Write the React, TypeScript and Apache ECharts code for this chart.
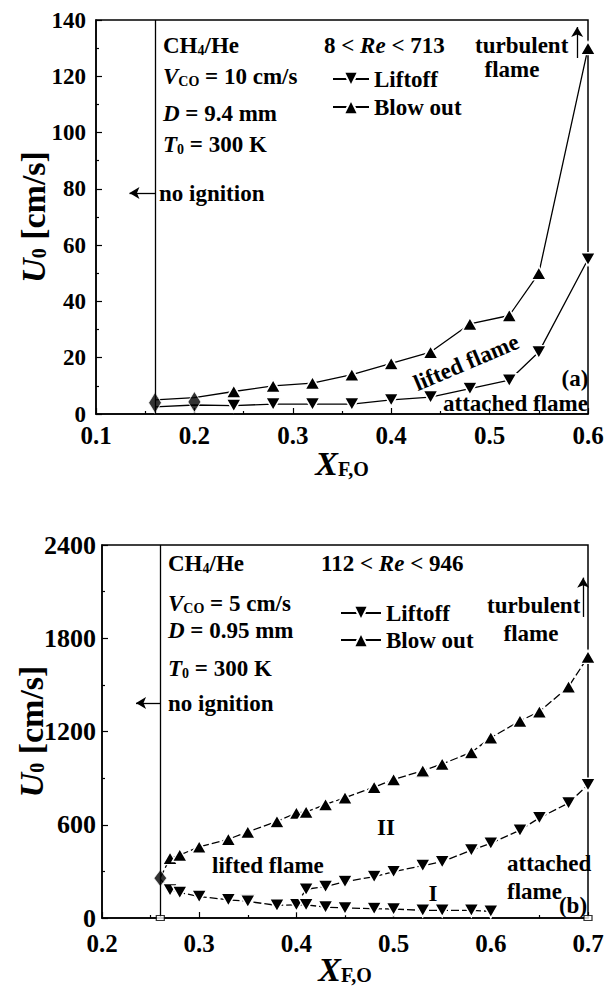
import React, { useEffect, useRef } from "react";
import * as echarts from "echarts";

// ---------- Panel (a) data ----------
const xTop = [0.16, 0.2, 0.24, 0.28, 0.32, 0.36, 0.4, 0.44, 0.48, 0.52, 0.55, 0.6];
const liftoffTop = [2.5, 3.2, 3, 3.5, 3.5, 3.5, 5, 6, 9, 12, 22, 55];
const blowoutTop = [5, 5.8, 8, 10, 11, 14, 18, 22, 32, 35, 50, 130];
const onsetTopX = [0.16, 0.2];
const onsetTopY = [4, 4.3];
const limitTopX = 0.16;
const xTicksTop = [0.1, 0.2, 0.3, 0.4, 0.5, 0.6];
const yTicksTop = [0, 20, 40, 60, 80, 100, 120, 140];

// ---------- Panel (b) data ----------
const xBlowBot = [0.26, 0.27, 0.28, 0.3, 0.33, 0.35, 0.38, 0.4, 0.41, 0.43, 0.45, 0.48, 0.5, 0.53, 0.55, 0.58, 0.6, 0.63, 0.65, 0.68, 0.7];
const blowoutBot = [260, 385, 405, 458, 507, 554, 622, 676, 682, 731, 774, 842, 891, 948, 991, 1066, 1160, 1268, 1328, 1488, 1680];
const xLiftBot1 = [0.26, 0.27, 0.28, 0.3, 0.33, 0.35, 0.38, 0.4, 0.41, 0.43, 0.45, 0.48, 0.5, 0.53, 0.55, 0.58, 0.6];
const liftoffBot1 = [250, 180, 164, 138, 117, 107, 81, 85, 85, 70, 64, 60, 58, 49, 49, 49, 43];
const xLiftBot2 = [0.4, 0.41, 0.43, 0.45, 0.48, 0.5, 0.53, 0.55, 0.58, 0.6, 0.63, 0.65, 0.68, 0.7];
const liftoffBot2 = [85, 185, 202, 234, 266, 298, 337, 362, 437, 480, 565, 644, 740, 857];
const onsetBotX = [0.26];
const onsetBotY = [256];
const openBotX = [0.26, 0.7];
const openBotY = [0, 0];
const limitBotX = 0.26;
const xTicksBot = [0.2, 0.3, 0.4, 0.5, 0.6, 0.7];
const yTicksBot = [0, 600, 1200, 1800, 2400];

const FONT = "'Liberation Serif', 'Times New Roman', serif";
const DOWN = "path://M0,0 L10,0 L5,9 Z";

const rich = (fs: number, subFs?: number, subPad?: number, subLh?: number) => ({
  n: { fontSize: fs, fontWeight: "bold", fontFamily: FONT, color: "#000", lineHeight: fs },
  i: { fontSize: fs, fontWeight: "bold", fontStyle: "italic", fontFamily: FONT, color: "#000", lineHeight: fs },
  s: {
    fontSize: subFs || Math.round(fs * 0.62),
    fontWeight: "bold",
    fontFamily: FONT,
    color: "#000",
    lineHeight: subLh || Math.round(fs * 0.7),
    padding: [subPad || Math.round(fs * 0.45), 0, 0, 0],
  },
});

const txt = (text: string, x: number, y: number, opts: any = {}) => ({
  type: "text",
  x,
  y,
  rotation: opts.rotation || 0,
  style: {
    text,
    rich: rich(opts.fs || 23),
    align: opts.align || "left",
    verticalAlign: "middle",
  },
});

const pts = (xs: number[], ys: number[], hideFirst: number) =>
  xs.map((x, i) => (i < hideFirst ? { value: [x, ys[i]], symbol: "none" } : [x, ys[i]]));

const axisCommon = {
  axisLine: { show: true, lineStyle: { color: "#000", width: 1.5 } },
  axisTick: { show: true, inside: true, length: 6, lineStyle: { color: "#000", width: 1.2 } },
  minorTick: { show: true, splitNumber: 2, length: 3, lineStyle: { color: "#000", width: 1.2 } },
  splitLine: { show: false },
  nameMoveOverlap: false,
};
const labelStyle = (fs: number, margin: number, fmt: (v: number) => string) => ({
  color: "#000",
  fontSize: fs,
  lineHeight: fs - 3,
  fontWeight: "bold",
  fontFamily: FONT,
  margin,
  formatter: fmt,
});
const titleRich = rich(34, 20, 12, 20);

export default function App() {
  const ref = useRef<HTMLDivElement>(null);
  useEffect(() => {
    const chart = echarts.init(ref.current!, null, { renderer: "svg" });
    const lineBase = (dashed: boolean) => ({
      type: "line",
      lineStyle: { color: "#000", width: 1.3, type: dashed ? [8, 3] : "solid" },
      itemStyle: { color: "#000", borderColor: "#fff", borderWidth: 1.5 },
      symbolSize: [15, 13],
      emphasis: { disabled: true },
      z: 3,
    });
    const gridBase = {
      show: true,
      borderColor: "#000",
      borderWidth: 1.5,
      backgroundColor: "transparent",
      containLabel: false,
      outerBoundsMode: "none",
    };
    const legendText = { fontSize: 23, fontWeight: "bold", fontFamily: FONT, color: "#000", lineHeight: 24 };
    const option: any = {
      animation: false,
      backgroundColor: "#fff",
      grid: [
        { ...gridBase, left: 96, top: 20, width: 492, height: 394 },
        { ...gridBase, left: 102, top: 545, width: 486, height: 373 },
      ],
      xAxis: [
        {
          ...axisCommon,
          gridIndex: 0,
          type: "value",
          min: xTicksTop[0],
          max: xTicksTop[xTicksTop.length - 1],
          interval: 0.1,
          axisLabel: labelStyle(25, 10, (v: number) => v.toFixed(1)),
          name: "{i|X}{s|F,O}",
          nameLocation: "middle",
          nameGap: 32,
          nameTextStyle: { rich: titleRich },
        },
        {
          ...axisCommon,
          gridIndex: 1,
          type: "value",
          min: xTicksBot[0],
          max: xTicksBot[xTicksBot.length - 1],
          interval: 0.1,
          axisLabel: labelStyle(25, 14, (v: number) => v.toFixed(1)),
          name: "{i|X}{s|F,O}",
          nameLocation: "middle",
          nameGap: 34,
          nameTextStyle: { rich: titleRich },
        },
      ],
      yAxis: [
        {
          ...axisCommon,
          gridIndex: 0,
          type: "value",
          min: yTicksTop[0],
          max: yTicksTop[yTicksTop.length - 1],
          interval: 20,
          axisLabel: labelStyle(23, 10, (v: number) => String(v)),
          name: "{i|U}{s|0}{n| [cm/s]}",
          nameLocation: "middle",
          nameGap: 46,
          nameRotate: 90,
          nameTextStyle: { rich: titleRich },
        },
        {
          ...axisCommon,
          gridIndex: 1,
          type: "value",
          min: yTicksBot[0],
          max: yTicksBot[yTicksBot.length - 1],
          interval: 600,
          axisLabel: labelStyle(26, 6, (v: number) => String(v)),
          name: "{i|U}{s|0}{n| [cm/s]}",
          nameLocation: "middle",
          nameGap: 54,
          nameRotate: 90,
          nameTextStyle: { rich: titleRich },
        },
      ],
      legend: [
        {
          data: ["Liftoff", "Blow out"],
          orient: "vertical",
          left: 327,
          top: 62,
          itemWidth: 36,
          itemHeight: 18,
          itemGap: 4,
          selectedMode: false,
          textStyle: legendText,
        },
        {
          data: ["Liftoff", "Blow out"],
          orient: "vertical",
          left: 335,
          top: 596,
          itemWidth: 40,
          itemHeight: 18,
          itemGap: 3,
          selectedMode: false,
          textStyle: legendText,
        },
      ],
      series: [
        // ----- panel (a)
        {
          ...lineBase(false),
          name: "Liftoff",
          xAxisIndex: 0,
          yAxisIndex: 0,
          symbol: DOWN,
          data: pts(xTop, liftoffTop, 2),
        },
        {
          ...lineBase(false),
          name: "Blow out",
          xAxisIndex: 0,
          yAxisIndex: 0,
          symbol: "triangle",
          data: pts(xTop, blowoutTop, 2),
        },
        {
          type: "scatter",
          name: "onset-a",
          xAxisIndex: 0,
          yAxisIndex: 0,
          symbol: "diamond",
          symbolSize: [13, 21],
          itemStyle: { color: "#000", borderColor: "#fff", borderWidth: 1 },
          emphasis: { disabled: true },
          z: 4,
          data: onsetTopX.map((x, i) => [x, onsetTopY[i]]),
          markLine: {
            silent: true,
            symbol: ["none", "arrow"],
            symbolSize: [9, 10],
            label: { show: false },
            lineStyle: { color: "#000", width: 1.3, type: "solid" },
            data: [
              [{ coord: [limitTopX, 0], symbol: "none" }, { coord: [limitTopX, 140], symbol: "none" }],
              [{ coord: [limitTopX, 78.5] }, { coord: [0.134, 78.5] }],
              [{ coord: [0.589, 126.5] }, { coord: [0.589, 137.5] }],
            ],
          },
        },
        // ----- panel (b)
        {
          ...lineBase(true),
          name: "Liftoff",
          xAxisIndex: 1,
          yAxisIndex: 1,
          symbol: DOWN,
          data: pts(xLiftBot1, liftoffBot1, 1),
        },
        {
          ...lineBase(true),
          name: "Liftoff",
          xAxisIndex: 1,
          yAxisIndex: 1,
          symbol: DOWN,
          data: pts(xLiftBot2, liftoffBot2, 1),
        },
        {
          ...lineBase(true),
          name: "Blow out",
          xAxisIndex: 1,
          yAxisIndex: 1,
          symbol: "triangle",
          data: pts(xBlowBot, blowoutBot, 1),
        },
        {
          type: "scatter",
          name: "onset-b",
          xAxisIndex: 1,
          yAxisIndex: 1,
          symbol: "diamond",
          symbolSize: [13, 17],
          itemStyle: { color: "#000", borderColor: "#fff", borderWidth: 1 },
          emphasis: { disabled: true },
          z: 4,
          data: onsetBotX.map((x, i) => [x, onsetBotY[i]]),
          markLine: {
            silent: true,
            symbol: ["none", "arrow"],
            symbolSize: [9, 10],
            label: { show: false },
            lineStyle: { color: "#000", width: 1.3, type: "solid" },
            data: [
              [{ coord: [limitBotX, 0], symbol: "none" }, { coord: [limitBotX, 2400], symbol: "none" }],
              [{ coord: [limitBotX, 1383] }, { coord: [0.235, 1383] }],
              [{ coord: [0.695, 1937] }, { coord: [0.695, 2190] }],
            ],
          },
        },
        {
          type: "scatter",
          name: "open-b",
          xAxisIndex: 1,
          yAxisIndex: 1,
          symbol: "rect",
          symbolSize: [8, 5],
          itemStyle: { color: "#fff", borderColor: "#000", borderWidth: 1 },
          emphasis: { disabled: true },
          z: 5,
          data: openBotX.map((x, i) => [x, openBotY[i]]),
        },
      ],
      graphic: [
        // panel (a)
        txt("{n|CH}{s|4}{n|/He}", 163, 45),
        txt("{i|V}{s|CO}{n| = 10 cm/s}", 163, 76),
        txt("{i|D}{n| = 9.4 mm}", 163, 113),
        txt("{i|T}{s|0}{n| = 300 K}", 163, 144),
        txt("{n|8 < }{i|Re}{n| < 713}", 324, 45),
        txt("{n|no ignition}", 159, 193),
        txt("{n|turbulent}", 475, 45),
        txt("{n|flame}", 512, 69, { align: "center" }),
        txt("{n|lifted flame}", 466, 362, { align: "center", rotation: (23 * Math.PI) / 180 }),
        txt("{n|(a)}", 575, 378, { align: "center" }),
        txt("{n|attached flame}", 443, 403),
        // panel (b)
        txt("{n|CH}{s|4}{n|/He}", 168, 563),
        txt("{n|112 < }{i|Re}{n| < 946}", 321, 563),
        txt("{i|V}{s|CO}{n| = 5 cm/s}", 168, 603),
        txt("{i|D}{n| = 0.95 mm}", 168, 630),
        txt("{i|T}{s|0}{n| = 300 K}", 168, 668),
        txt("{n|no ignition}", 168, 703),
        txt("{n|turbulent}", 487, 605),
        txt("{n|flame}", 531, 633, { align: "center" }),
        txt("{n|II}", 386, 827, { align: "center" }),
        txt("{n|lifted flame}", 212, 865),
        txt("{n|attached}", 507, 863),
        txt("{n|I}", 433, 893, { align: "center" }),
        txt("{n|flame}", 507, 891),
        txt("{n|(b)}", 573, 905, { align: "center" }),
      ],
    };
    chart.setOption(option);
    return () => chart.dispose();
  }, []);
  return (
    <div
      ref={ref}
      style={{ position: "fixed", left: 0, top: 0, width: 615, height: 987, background: "#fff" }}
    />
  );
}
